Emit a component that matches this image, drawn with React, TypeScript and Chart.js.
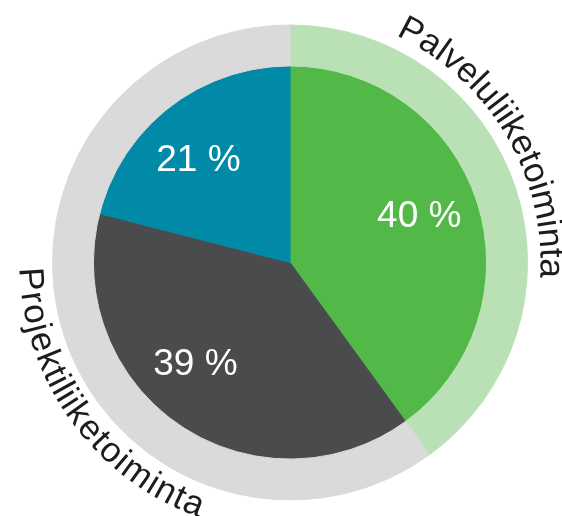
import React, { useEffect, useRef } from "react";
import { Chart, registerables } from "chart.js";

Chart.register(...registerables);

// ---- data ----
const sliceNames = ["Palveluliiketoiminta", "Projektiliiketoiminta A", "Projektiliiketoiminta B"];
const sliceValues = [40, 39, 21];
const sliceLabels = ["40 %", "39 %", "21 %"];
const ringCategories = ["Palveluliiketoiminta", "Projektiliiketoiminta"];
const ringValues = [40, 60];

// ---- styles ----
const sliceColors = ["#52b848", "#4a4b4d", "#0189a8"];
const ringColors = ["#b9e1b5", "#dadada"];

const sliceLabelPlugin = {
  id: "sliceLabels",
  afterDatasetsDraw(chart: any, _args: any, opts: any) {
    const meta = chart.getDatasetMeta(1);
    const ctx = chart.ctx;
    ctx.save();
    ctx.font = opts.font;
    ctx.fillStyle = opts.color;
    ctx.textAlign = "center";
    ctx.textBaseline = "alphabetic";
    meta.data.forEach((arc: any, i: number) => {
      const p = arc.getProps(["x", "y", "startAngle", "endAngle", "outerRadius"], true);
      const mid = (p.startAngle + p.endAngle) / 2;
      const r = p.outerRadius * opts.radiusFraction;
      const [dx, dy] = opts.shift[i] || [0, 0];
      ctx.fillText(
        sliceLabels[i],
        p.x + Math.cos(mid) * r + dx,
        p.y + Math.sin(mid) * r + dy + opts.capHalf
      );
    });
    ctx.restore();
  },
};

const arcTextPlugin = {
  id: "arcText",
  afterDatasetsDraw(chart: any, _args: any, opts: any) {
    const meta = chart.getDatasetMeta(0);
    const arc0 = meta.data[0];
    if (!arc0) return;
    const { x: cx, y: cy, outerRadius } = arc0.getProps(["x", "y", "outerRadius"], true);
    const ctx = chart.ctx;
    ctx.save();
    ctx.font = opts.font;
    ctx.fillStyle = opts.color;
    ctx.textAlign = "center";
    ctx.textBaseline = "alphabetic";
    opts.items.forEach((item: any, i: number) => {
      const text = ringCategories[i];
      const r = outerRadius + item.gap;
      const chars = Array.from(text);
      const widths = chars.map((c) => ctx.measureText(c).width);
      const W = widths.reduce((a, b) => a + b, 0);
      const a0 = (item.start * Math.PI) / 180;
      const a1 = (item.end * Math.PI) / 180;
      const span = a1 - a0;
      let acc = 0;
      chars.forEach((c, k) => {
        const frac = (acc + widths[k] / 2) / W;
        acc += widths[k];
        const th = a0 + span * frac;
        const px = cx + r * Math.sin(th);
        const py = cy - r * Math.cos(th);
        ctx.save();
        ctx.translate(px, py);
        ctx.rotate(item.clockwise ? th : th - Math.PI);
        ctx.fillText(c, 0, 0);
        ctx.restore();
      });
    });
    ctx.restore();
  },
};

export default function App() {
  const ref = useRef<HTMLCanvasElement | null>(null);
  useEffect(() => {
    if (!ref.current) return;
    const chart = new Chart(ref.current, {
      type: "doughnut",
      data: {
        labels: sliceNames,
        datasets: [
          {
            label: "ring",
            data: ringValues,
            backgroundColor: ringColors,
            borderColor: ringColors,
            borderWidth: 1,
            hoverOffset: 0,
            weight: 41,
          } as any,
          {
            label: "slices",
            data: sliceValues,
            backgroundColor: sliceColors,
            borderColor: sliceColors,
            borderWidth: 1,
            hoverOffset: 0,
            weight: 197,
          } as any,
        ],
      },
      options: {
        responsive: false,
        animation: false,
        cutout: 0,
        layout: { padding: { left: 52, right: 34, top: 24.5, bottom: 15.5 } },
        plugins: {
          legend: { display: false },
          tooltip: { enabled: false },
          sliceLabels: {
            font: "37px 'Liberation Sans', Arial, sans-serif",
            color: "#ffffff",
            radiusFraction: 0.702,
            capHalf: 13,
            shift: [
              [-2, -6],
              [-17, -15],
              [-7, 5],
            ],
          },
          arcText: {
            font: "35px 'Liberation Sans', Arial, sans-serif",
            color: "#1c1c1c",
            items: [
              { gap: 13, start: 25, end: 93.5, clockwise: true },
              { gap: 33, start: 269, end: 199.5, clockwise: false },
            ],
          },
        } as any,
      },
      plugins: [sliceLabelPlugin, arcTextPlugin],
    });
    return () => chart.destroy();
  }, []);
  return (
    <div style={{ position: "fixed", left: 0, top: 0, width: 562, height: 516 }}>
      <canvas ref={ref} width={562} height={516} />
    </div>
  );
}
